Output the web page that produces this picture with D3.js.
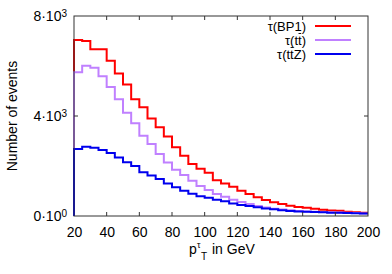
<!DOCTYPE html>
<html>
<head>
<meta charset="utf-8">
<script src="https://cdn.jsdelivr.net/npm/d3@7"></script>
<style>
	body { margin: 0; background: #fff; }
	text { font-family: "Liberation Sans", Arial, sans-serif; fill: #000; }
</style>
</head>
<body>
<svg id="canvas"></svg>
<script>
// bin edges: 20..200 GeV in 5 GeV steps
let binStart = 20;
let binWidth = 5;

let bp1 = [7040, 7000, 6670, 6670, 6210, 5700, 5260, 4670, 4350, 3900, 3550, 3180, 2750, 2410, 2080, 1890, 1730, 1430,
	1300, 1170, 1010, 880, 750, 640, 550, 480, 410, 360, 330, 290, 250, 225, 210, 175, 150, 130];
let ttbar = [5750, 6010, 5930, 5590, 5160, 4670, 4130, 3710, 3210, 2880, 2480, 2140, 1850, 1640, 1410, 1200, 1040, 880,
	770, 650, 560, 480, 400, 340, 290, 260, 230, 200, 185, 170, 160, 150, 140, 130, 120, 100];
let ttz = [2680, 2770, 2730, 2640, 2520, 2340, 2150, 2000, 1750, 1620, 1480, 1300, 1150, 1010, 890, 790, 730, 650,
	590, 500, 440, 400, 350, 300, 270, 230, 200, 185, 170, 160, 150, 135, 130, 120, 115, 105];

let seriesLabels = ['\u03c4(BP1)', '\u03c4(tt)', '\u03c4(ttZ)'];
let barredChar = [-1, 3, 3]; // index of the t that gets a bar, -1 for none
let seriesColors = ['#ff0000', '#c080ff', '#0000ee'];

let xTicks = [20, 40, 60, 80, 100, 120, 140, 160, 180, 200];
let yTicks = [0, 4000, 8000];
let yTickMant = ['0', '4', '8'];
let yTickExp = ['0', '3', '3'];

let width = 392;
let height = 274;
let padL = 74, padR = 368, padT = 16, padB = 216;

let svg = d3.select('#canvas')
	.attr('width', width)
	.attr('height', height)

let xScale = d3.scaleLinear().domain([20, 200]).range([padL, padR]);
let yScale = d3.scaleLinear().domain([0, 8000]).range([padB, padT]);

let drawFrame = () => {
	svg.append('rect')
		.attr('x', padL)
		.attr('y', padT)
		.attr('width', padR - padL)
		.attr('height', padB - padT)
		.attr('fill', 'none')
		.attr('stroke', '#333')
		.attr('stroke-width', 1)
}

let drawAxes = () => {
	let xAxis = d3.axisBottom(xScale).tickValues(xTicks).tickSize(0).tickPadding(11)
	let g = svg.append('g')
		.attr('transform', `translate(0, ${padB})`)
		.call(xAxis)
	g.select('.domain').remove()
	g.selectAll('text').style('font-size', '14px').attr('fill', '#000')

	// inward ticks on bottom and top
	xTicks.slice(1, -1).forEach((v) => {
		svg.append('line').attr('x1', xScale(v)).attr('x2', xScale(v))
			.attr('y1', padB).attr('y2', padB - 4).attr('stroke', '#333')
		svg.append('line').attr('x1', xScale(v)).attr('x2', xScale(v))
			.attr('y1', padT).attr('y2', padT + 4).attr('stroke', '#333')
	})

	let yAxis = d3.axisLeft(yScale).tickValues(yTicks).tickSize(0).tickFormat('')
	let gy = svg.append('g')
		.attr('transform', `translate(${padL}, 0)`)
		.call(yAxis)
	gy.select('.domain').remove()
	gy.selectAll('.tick').each(function (d, i) {
		let t = d3.select(this).append('text')
			.attr('x', -7)
			.attr('dy', '0.35em')
			.attr('text-anchor', 'end')
			.style('font-size', '14px')
		t.append('tspan').text(yTickMant[i] + '\u00b710')
		t.append('tspan').attr('dy', '-0.45em').style('font-size', '10px').text(yTickExp[i])
	})
	yTicks.slice(1, -1).forEach((v) => {
		svg.append('line').attr('x1', padL).attr('x2', padL + 4)
			.attr('y1', yScale(v)).attr('y2', yScale(v)).attr('stroke', '#333')
		svg.append('line').attr('x1', padR).attr('x2', padR - 4)
			.attr('y1', yScale(v)).attr('y2', yScale(v)).attr('stroke', '#333')
	})

	// x title: p, superscript tau, subscript T, then "in GeV"
	svg.append('text').attr('x', 189).attr('y', 254).style('font-size', '14px').text('p')
	svg.append('text').attr('x', 197).attr('y', 248).style('font-size', '9px').text('\u03c4')
	svg.append('text').attr('x', 201).attr('y', 260).style('font-size', '10px').text('T')
	svg.append('text').attr('x', 212).attr('y', 254).style('font-size', '14px').text('in GeV')

	svg.append('text')
		.attr('transform', `translate(17, ${(padT + padB) / 2}) rotate(-90)`)
		.attr('text-anchor', 'middle')
		.style('font-size', '14px')
		.text('Number of events')
}

let drawHists = () => {
	let line = d3.line()
		.x((d) => xScale(d[0]))
		.y((d) => yScale(d[1]))
		.curve(d3.curveStepAfter)

	;[bp1, ttbar, ttz].forEach((vals, i) => {
		let pts = [[binStart, 0]]
		vals.forEach((v, k) => pts.push([binStart + k * binWidth, v]))
		pts.push([binStart + vals.length * binWidth, vals[vals.length - 1]])
		svg.append('path')
			.attr('d', line(pts))
			.attr('fill', 'none')
			.attr('stroke', seriesColors[i])
			.attr('stroke-width', 2)
	})
}

let drawLegend = () => {
	let rows = [26, 40, 54]
	rows.forEach((ry, i) => {
		let t = svg.append('text')
			.attr('x', 306)
			.attr('y', ry)
			.attr('dy', '0.35em')
			.attr('text-anchor', 'end')
			.style('font-size', '13px')
			.text(seriesLabels[i])
		if (barredChar[i] >= 0) {
			let box = t.node().getExtentOfChar(barredChar[i])
			svg.append('line')
				.attr('x1', box.x + 0.5).attr('x2', box.x + box.width - 0.5)
				.attr('y1', ry - 6.5).attr('y2', ry - 6.5)
				.attr('stroke', '#000')
				.attr('stroke-width', 0.9)
		}
		svg.append('line')
			.attr('x1', 315).attr('x2', 351)
			.attr('y1', ry).attr('y2', ry)
			.attr('stroke', seriesColors[i])
			.attr('stroke-width', 2)
	})
}

drawHists()
drawFrame()
drawAxes()
drawLegend()
</script>
</body>
</html>
